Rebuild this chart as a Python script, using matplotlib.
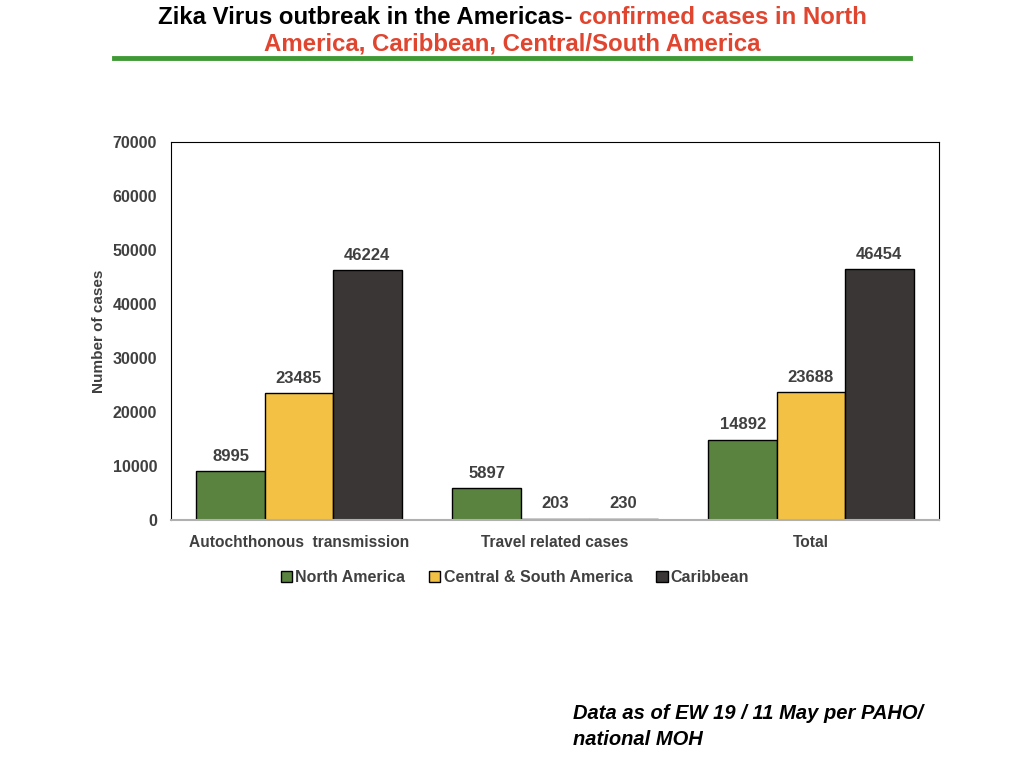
import matplotlib.pyplot as plt
import numpy as np

categories = ['Autochthonous  transmission', 'Travel related cases', 'Total']
series_names = ['North America', 'Central & South America', 'Caribbean']
north_america = [8995, 5897, 14892]
central_south = [23485, 203, 23688]
caribbean = [46224, 230, 46454]
colors = ['#5b8340', '#f3c244', '#3a3636']

title_black = 'Zika Virus outbreak in the Americas- '
title_red_1 = 'confirmed cases in North'
title_red_2 = 'America, Caribbean, Central/South America'
footnote = 'Data as of EW 19 / 11 May per PAHO/\nnational MOH'

fam = ['Liberation Sans', 'DejaVu Sans']
txt = '#404040'
plt.rcParams['font.family'] = fam

fig = plt.figure(figsize=(10.24, 7.68), dpi=100)
ax = fig.add_axes([171/1024, 1-520/768, 768/1024, 378/768])

x = np.arange(len(categories))
w = 0.267
for i, (vals, name) in enumerate(zip([north_america, central_south, caribbean], series_names)):
    bars = ax.bar(x + (i - 1) * w, vals, w, color=colors[i], edgecolor='black',
                  linewidth=1, label=name)
    for b, v in zip(bars, vals):
        ax.text(b.get_x() + b.get_width()/2, v + 1400, str(v), ha='center', va='bottom',
                fontsize=12, fontweight='bold', color=txt)

ax.set_xlim(-0.5, 2.5)
ax.set_ylim(0, 70000)
ax.set_yticks(range(0, 70001, 10000))
ax.set_xticks(x)
ax.set_xticklabels(categories)
ax.tick_params(axis='y', length=0, pad=10)
ax.tick_params(axis='x', length=0, pad=11)
for lab in ax.get_yticklabels():
    lab.set_fontsize(11.5)
for lab in ax.get_xticklabels():
    lab.set_fontsize(11.2)
for lab in ax.get_xticklabels() + ax.get_yticklabels():
    lab.set_fontweight('bold')
    lab.set_color(txt)
for s in ['left', 'top', 'right']:
    ax.spines[s].set_color('black')
ax.spines['bottom'].set_color('#b0b0b0')
ax.spines['bottom'].set_linewidth(1.5)
ax.set_ylabel('Number of cases', fontsize=11, fontweight='bold', color=txt, labelpad=5)

leg = ax.legend(loc='upper center', bbox_to_anchor=(0.448, -0.095), ncol=3, frameon=False,
                handlelength=0.7, handleheight=0.7, handletextpad=0.2, columnspacing=1.5,
                prop={'weight': 'bold', 'size': 11.5})
for t in leg.get_texts():
    t.set_color(txt)

# two-colour title, centred by measuring the pieces
fig.canvas.draw()
r = fig.canvas.get_renderer()
tfont = dict(fontsize=17.3, fontweight='bold', va='center')
t1 = fig.text(0, 1-17/768, title_black, color='black', **tfont)
t2 = fig.text(0, 1-17/768, title_red_1, color='#e04530', **tfont)
w1 = t1.get_window_extent(r).width / 1024
w2 = t2.get_window_extent(r).width / 1024
start = 0.5 - (w1 + w2) / 2
t1.set_x(start)
t2.set_x(start + w1)
fig.text(0.5, 1-44/768, title_red_2, color='#e04530', ha='center', **tfont)

fig.add_artist(plt.Line2D([114/1024, 910/1024], [1-58/768, 1-58/768], color='#3f9a35', linewidth=3.5))

fig.text(573/1024, 1-704/768, footnote, fontsize=14.5, fontweight='bold', style='italic',
         va='top', linespacing=1.45)

fig.savefig('out.png', dpi=100)
